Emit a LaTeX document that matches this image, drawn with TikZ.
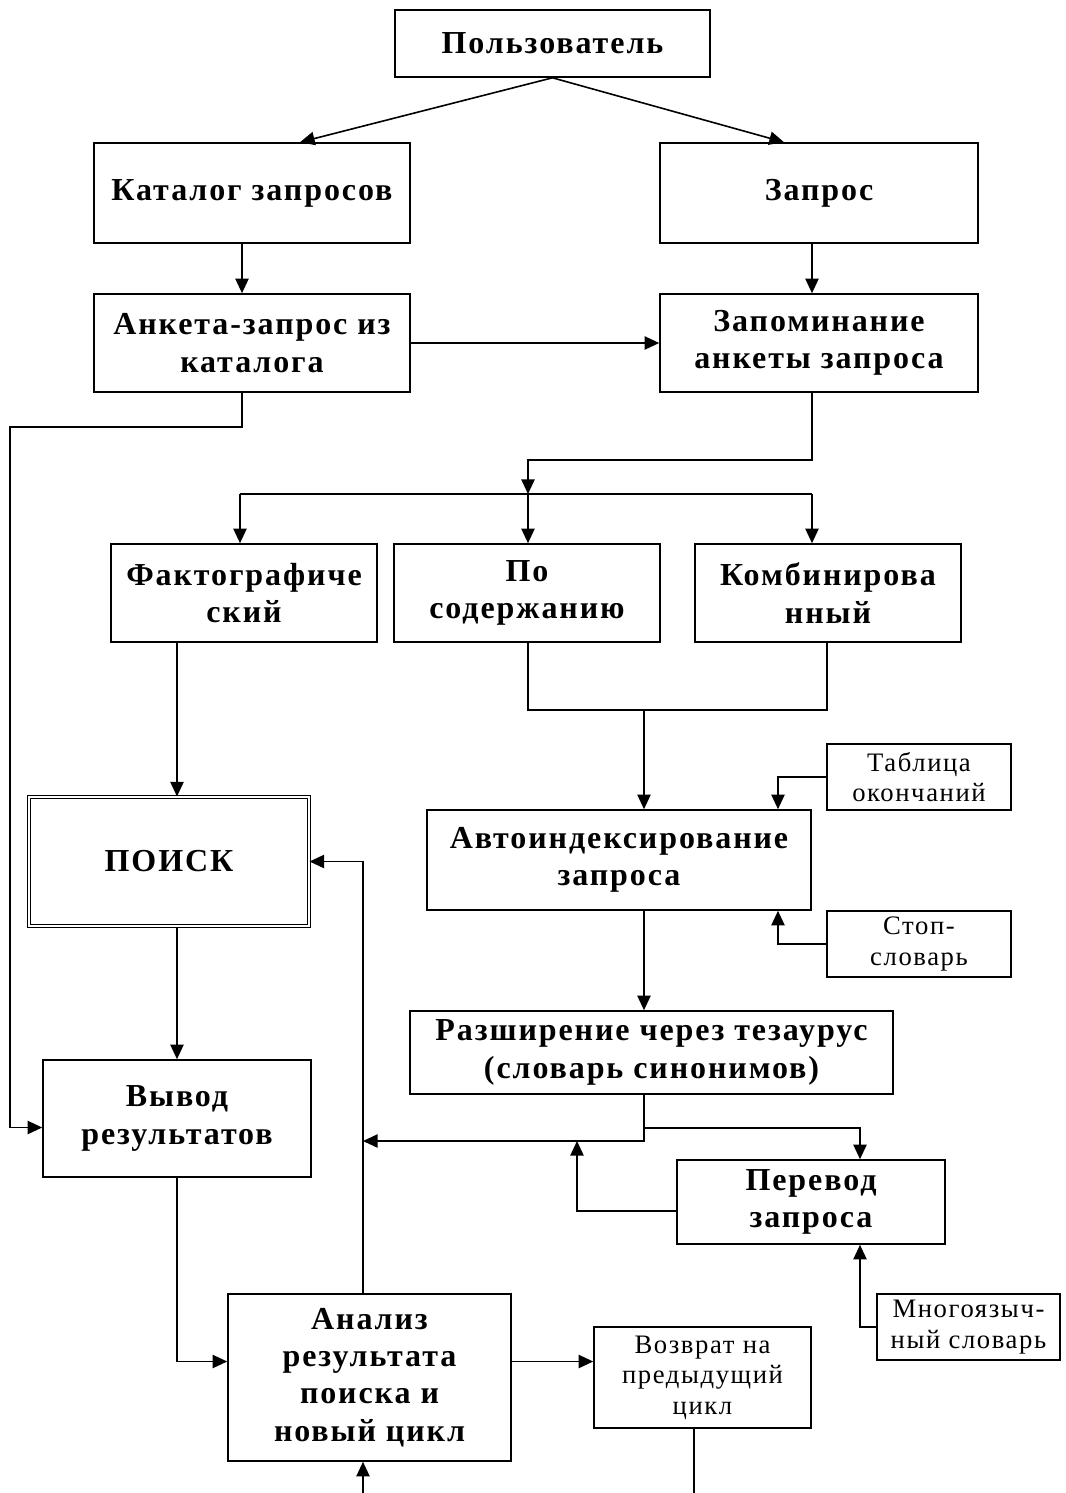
\documentclass[tikz,border=0pt]{standalone}
\usepackage{fontspec}
\setmainfont{Liberation Serif}
\usetikzlibrary{arrows.meta,calc}
\begin{document}
\begin{tikzpicture}[x=0.75pt,y=-0.75pt,
 box/.style={draw,line width=1.2pt,inner sep=0pt,align=center,font=\bfseries\fontsize{24}{28}\selectfont\addfontfeature{LetterSpace=6}},
 sbox/.style={draw,line width=1.2pt,inner sep=0pt,align=center,font=\fontsize{20}{23}\selectfont\addfontfeature{LetterSpace=6}},
 dbox/.style={box,line width=0.8pt,double,double distance=2pt},
 con/.style={line width=1.2pt},
 arr/.style={con,-{Triangle[length=11pt,width=10pt]}}]
\newcommand\bx[7][box]{\node[#1,minimum width={(#5-#3)*0.75pt},minimum height={(#6-#4)*0.75pt}] (#2) at ({(#3+#5)/2},{(#4+#6)/2}) {#7};}
\useasboundingbox (0,0) rectangle (1066,1493);
% boxes
\bx{user}{395}{10}{710}{77}{Пользователь}
\bx{cat}{94}{143}{410}{243}{Каталог запросов}
\bx{zap}{660}{143}{978}{243}{Запрос}
\bx{ank}{94}{294}{410}{392}{Анкета-запрос из\\каталога}
\bx{zapm}{660}{294}{978}{392}{Запоминание\\анкеты запроса}
\bx{fakt}{111}{544}{377}{642}{Фактографиче\\ский}
\bx{posod}{394}{544}{660}{642}{По\\содержанию}
\bx{komb}{695}{544}{961}{642}{Комбинирова\\нный}
\bx[dbox]{poisk}{29}{797}{309}{926}{ПОИСК}
\bx[sbox]{tab}{827}{744}{1011}{810}{Таблица\\окончаний}
\bx{avto}{427}{810}{811}{910}{Автоиндексирование\\запроса}
\bx[sbox]{stop}{827}{911}{1011}{977}{Стоп-\\словарь}
\bx{razsh}{410}{1011}{893}{1094}{Разширение через тезаурус\\(словарь синонимов)}
\bx{vyv}{43}{1060}{311}{1177}{Вывод\\результатов}
\bx{perev}{677}{1160}{945}{1244}{Перевод\\запроса}
\bx[sbox]{mnogo}{877}{1294}{1060}{1360}{Многоязыч-\\ный словарь}
\bx{anal}{228}{1294}{511}{1461}{Анализ\\результата\\поиска и\\новый цикл}
\bx[sbox]{voz}{594}{1327}{811}{1428}{Возврат на\\предыдущий\\цикл}
% helper coordinates
\coordinate (x177) at (177,0);
\coordinate (x242) at (242,0);
\coordinate (x300) at (300,0);
\coordinate (x363) at (363,0);
\coordinate (x528) at (528,0);
\coordinate (x644) at (644,0);
\coordinate (x694) at (694,0);
\coordinate (x778) at (778,0);
\coordinate (x784) at (784,0);
\coordinate (x812) at (812,0);
\coordinate (x827) at (827,0);
\coordinate (x860) at (860,0);
\coordinate (b1) at (10,427);
\coordinate (b2) at (528,460);
\coordinate (bus) at (528,494);
\coordinate (busL) at (240,494);
\coordinate (busR) at (812,494);
\coordinate (m1) at (528,710);
\coordinate (m2) at (644,710);
\coordinate (r1) at (644,1128);
\coordinate (r2) at (363,1141);
\coordinate (r3) at (577,1141);
\coordinate (e1) at (694,1493);
\coordinate (e2) at (363,1493);
% connectors
\draw[arr] (user.south) -- (cat.north -| x300);
\draw[arr] (user.south) -- (zap.north -| x784);
\draw[arr] (cat.south -| x242) -- (ank.north -| x242);
\draw[arr] (zap.south -| x812) -- (zapm.north -| x812);
\draw[arr] (ank.east) -- (zapm.west);
\draw[arr] (ank.south -| x242) |- (b1) |- ([yshift=-6.75pt]vyv.west);
\draw[arr] (zapm.south -| x812) |- (b2) -- (bus);
\draw[con] (busL) -- (busR);
\draw[arr] (busL) -- (fakt.north -| busL);
\draw[arr] (bus) -- (posod.north -| bus);
\draw[arr] (busR) -- (komb.north -| busR);
\draw[arr] (fakt.south -| x177) -- (poisk.north -| x177);
\draw[con] (posod.south -| x528) |- (m1) -| (komb.south -| x827);
\draw[arr] (m2) -- (avto.north -| x644);
\draw[arr] (tab.west) -| (avto.north -| x778);
\draw[arr] (stop.west) -| (avto.south -| x778);
\draw[arr] (avto.south -| x644) -- (razsh.north -| x644);
\draw[arr] (razsh.south -| x644) |- (r2);
\draw[arr] (r1) -| (perev.north -| x860);
\draw[arr] ([yshift=-6.75pt]perev.west) -| (r3);
\draw[arr] (mnogo.west) -| (perev.south -| x860);
\draw[arr] (anal.north -| x363) |- (poisk.east);
\draw[arr] (poisk.south -| x177) -- (vyv.north -| x177);
\draw[arr] (vyv.south) |- ([yshift=12pt]anal.west);
\draw[arr] ([yshift=12pt]anal.east) -- ([yshift=12pt]anal.east -| voz.west);
\draw[con] (voz.south -| x694) -- (e1);
\draw[arr] (e2) -- (anal.south -| x363);
\end{tikzpicture}
\end{document}
